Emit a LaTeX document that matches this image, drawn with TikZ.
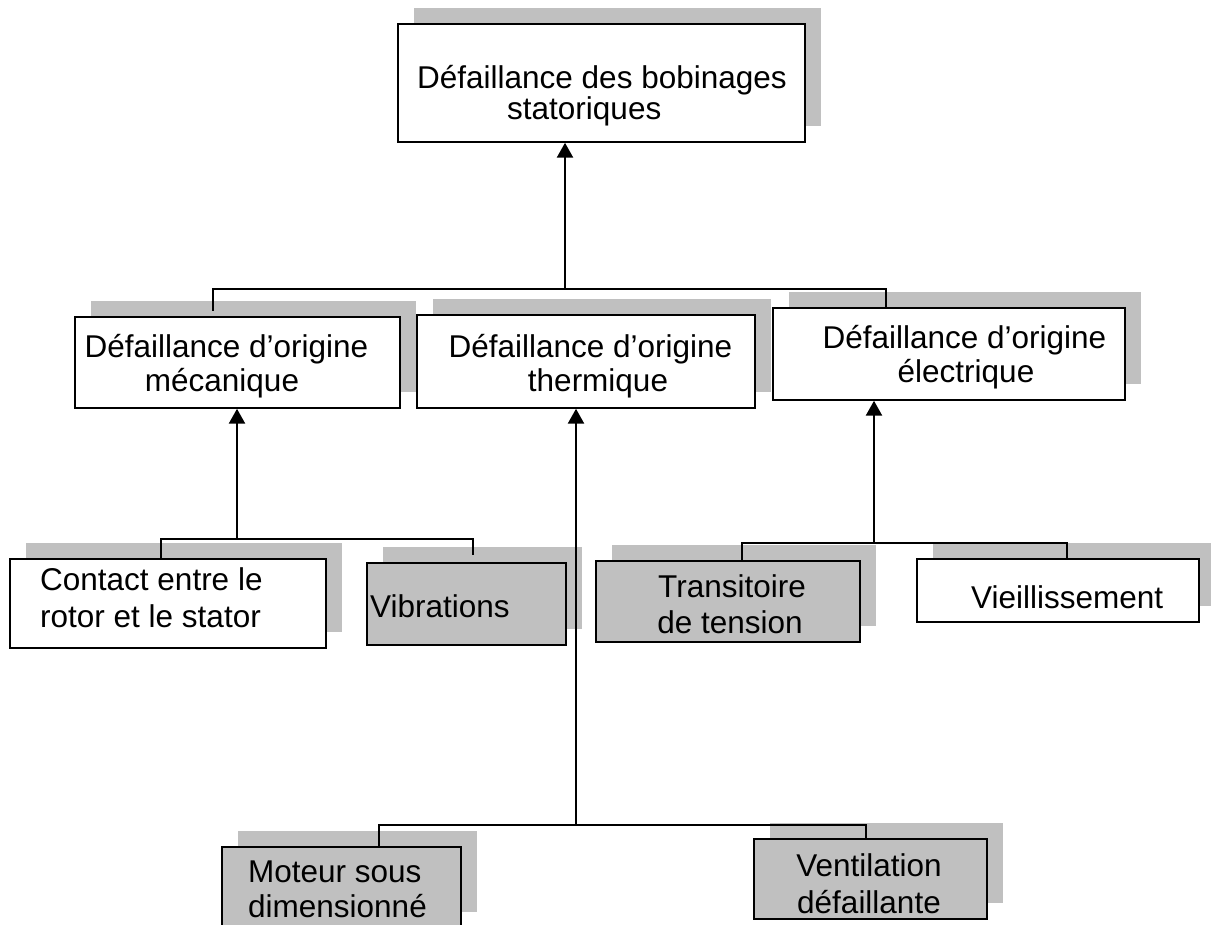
\documentclass[tikz,border=0pt]{standalone}
\usepackage{fontspec}
\setmainfont{Liberation Sans}
\usetikzlibrary{arrows.meta,shadows}
\definecolor{silver}{HTML}{C0C0C0}
\begin{document}
\begin{tikzpicture}[x=1pt,y=-1pt,
  box/.style={draw=black, line width=1.5pt, fill=white, inner sep=0pt,
    general shadow={fill=silver, shadow xshift=16pt, shadow yshift=16pt}},
  greybox/.style={box, fill=silver},
  txt/.style={font=\fontsize{31.5}{36}\selectfont, inner sep=0pt, anchor=base},
  txtl/.style={txt, anchor=base west},
  conn/.style={line width=1.5pt},
  arr/.style={line width=2.6pt, -{Triangle[width=16pt,length=15pt]}}]
\useasboundingbox (0,0) rectangle (1211,925);

% boxes
\node[box, minimum width=407pt, minimum height=118pt] (top) at (601.5,83) {};
\node[box, minimum width=325pt, minimum height=91pt] (mec) at (237.5,362.5) {};
\node[box, minimum width=338pt, minimum height=93pt] (therm) at (586,361.5) {};
\node[box, minimum width=352pt, minimum height=92pt] (elec) at (949,354) {};
\node[box, minimum width=316pt, minimum height=89pt] (contact) at (168,603.5) {};
\node[greybox, minimum width=199pt, minimum height=82pt] (vib) at (466.5,604) {};
\node[greybox, minimum width=264pt, minimum height=81pt] (trans) at (728,601.5) {};
\node[box, minimum width=282pt, minimum height=63pt] (vieil) at (1058,590.5) {};
\node[greybox, minimum width=239pt, minimum height=81pt] (moteur) at (341.5,887.5) {};
\node[greybox, minimum width=233pt, minimum height=80pt] (vent) at (870.5,879) {};

% labels
\node[txtl] (topA) at (417,89) {Défaillance des bobinages};
\node[txtl] (topB) at (507,120) {statoriques};
\node[txt] (mecA) at (226.5,357.5) {Défaillance d’origine};
\node[txt] (mecB) at (222,391.5) {mécanique};
\node[txt] (thA) at (590.5,357.5) {Défaillance d’origine};
\node[txt] (thB) at (598,391.5) {thermique};
\node[txt] (elA) at (964.5,349) {Défaillance d’origine};
\node[txt] (elB) at (966,383) {électrique};
\node[txtl] (coA) at (40,590) {Contact entre le};
\node[txtl] (coB) at (40,627) {rotor et le stator};
\node[txtl] (vi) at (370,617) {Vibrations};
\node[txt] (trA) at (732,597) {Transitoire};
\node[txt] (trB) at (730,633) {de tension};
\node[txtl] (ve) at (971,608) {Vieillissement};
\node[txtl] (moA) at (248,882) {Moteur sous};
\node[txtl] (moB) at (248,917) {dimensionné};
\node[txt] (vnA) at (869,876) {Ventilation};
\node[txt] (vnB) at (869,913) {défaillante};

% top level: three causes feed the main failure
\coordinate (jTop) at (565,289);
\coordinate (tL) at (213,289);
\coordinate (tR) at (886,289);
\coordinate (tLend) at (213,311);
\draw[conn] (tLend) -- (tL) -- (tR) -- (tR |- elec.north);
\draw[arr] (jTop) -- (jTop |- top.south);

% mechanical branch
\coordinate (jMec) at (237,539);
\coordinate (mL) at (161,539);
\coordinate (mR) at (473,539);
\coordinate (mRend) at (473,555);
\draw[conn] (mL |- contact.north) -- (mL) -- (mR) -- (mRend);
\draw[arr] (jMec) -- (jMec |- mec.south);

% thermal branch
\coordinate (jTh) at (576,825);
\coordinate (bL) at (379,825);
\coordinate (bR) at (866,825);
\draw[conn] (bL |- moteur.north) -- (bL) -- (bR) -- (bR |- vent.north);
\draw[arr] (jTh) -- (jTh |- therm.south);

% electrical branch
\coordinate (jEl) at (874,543);
\coordinate (eL) at (742,543);
\coordinate (eR) at (1067,543);
\draw[conn] (eL |- trans.north) -- (eL) -- (eR) -- (eR |- vieil.north);
\draw[arr] (jEl) -- (jEl |- elec.south);
\end{tikzpicture}
\end{document}
